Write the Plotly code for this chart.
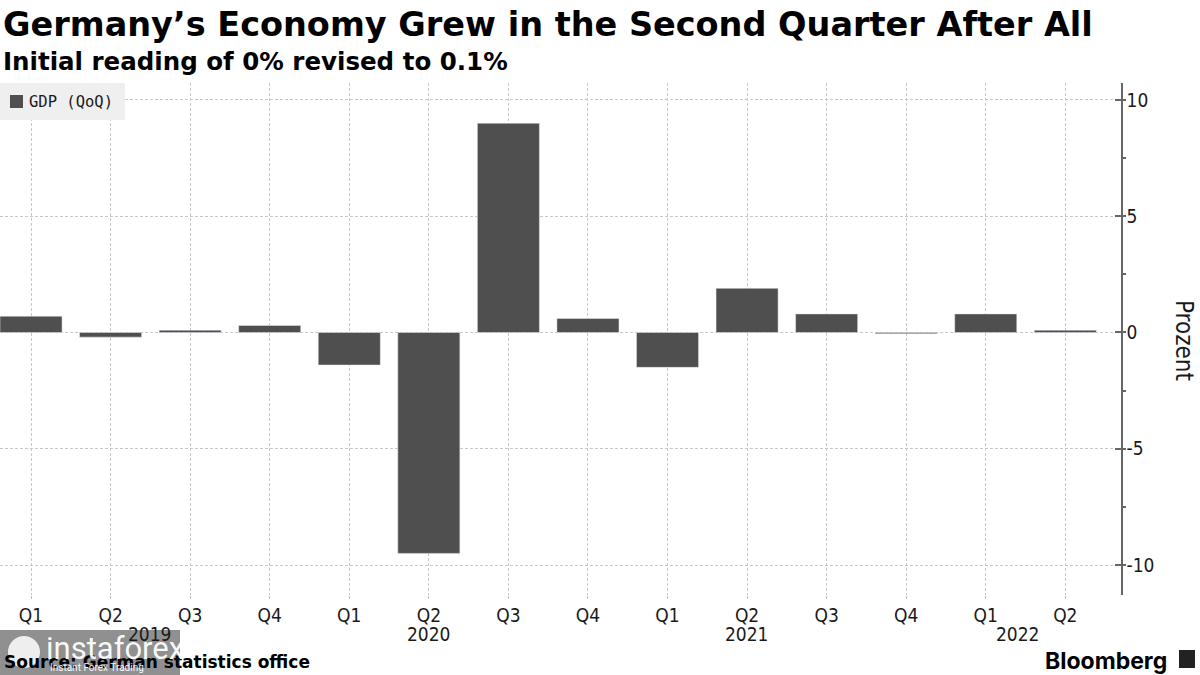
import plotly.graph_objects as go

quarters = ["Q1", "Q2", "Q3", "Q4", "Q1", "Q2", "Q3", "Q4",
            "Q1", "Q2", "Q3", "Q4", "Q1", "Q2"]
gdp_qoq = [0.7, -0.2, 0.1, 0.3, -1.4, -9.5, 9.0, 0.6,
           -1.5, 1.9, 0.8, -0.05, 0.8, 0.1]
years = ["2019", "2020", "2021", "2022"]
year_label_pos = [1.5, 5.0, 9.0, 12.4]
y_ticks = [-10, -5, 0, 5, 10]
series_name = "GDP (QoQ)"

title = "Germany’s Economy Grew in the Second Quarter After All"
subtitle = "Initial reading of 0% revised to 0.1%"
source = "Source: German statistics office"

BAR = "#4f4f4f"
GRID = "#c8c8c8"
TXT = "#1a1a1a"
TICKFONT = "DejaVu Sans Condensed, Liberation Sans Narrow, Roboto, sans-serif"
HEADFONT = "DejaVu Sans, Verdana, sans-serif"

W, H = 1200, 675
ML, MR, MT, MB = 0, 79, 83, 80
PW, PH = W - ML - MR, H - MT - MB


def px(xpix):
    return (xpix - ML) / PW


def py(ypix):
    return (H - MB - ypix) / PH


xs = list(range(len(quarters)))

fig = go.Figure()
fig.add_trace(go.Bar(
    x=xs, y=gdp_qoq, name=series_name, marker_color=BAR,
    width=0.78, showlegend=False,
))

fig.update_layout(
    width=W, height=H, autosize=False,
    margin=dict(l=ML, r=MR, t=MT, b=MB, autoexpand=False),
    paper_bgcolor="white", plot_bgcolor="white",
    showlegend=False,
)

fig.update_xaxes(
    range=[-0.39, 13.70],
    tickmode="array", tickvals=xs, ticktext=quarters,
    tickfont=dict(family=TICKFONT, size=19, color=TXT),
    showgrid=True, gridcolor=GRID, griddash="3px,2px", gridwidth=1,
    ticks="outside", ticklen=3, tickcolor="#bbbbbb",
    showline=False, zeroline=False, fixedrange=True,
)

fig.update_yaxes(
    side="right", range=[-11.29, 10.73],
    tickmode="array", tickvals=y_ticks, ticktext=[str(v) for v in y_ticks],
    tickfont=dict(family=TICKFONT, size=19, color=TXT),
    showgrid=True, gridcolor=GRID, griddash="3px,2px", gridwidth=1,
    zeroline=False,
    showline=True, linecolor="#666666", linewidth=1.5,
    ticks="inside", ticklen=6, tickwidth=2, tickcolor="#666666",
    minor=dict(dtick=2.5, tick0=0, ticks="outside", ticklen=3, tickcolor="#666666", showgrid=False),
    fixedrange=True,
)

shapes = [
    dict(type="line", xref="paper", yref="y", x0=0, x1=1, y0=0, y1=0,
         line=dict(color=GRID, width=1, dash="3px,2px"), layer="below"),
    dict(type="rect", xref="paper", yref="paper", x0=px(0), x1=px(125), y0=py(120), y1=py(83),
         fillcolor="#efefef", line=dict(width=0), layer="above"),
    dict(type="rect", xref="paper", yref="paper", x0=px(10), x1=px(23), y0=py(108), y1=py(95),
         fillcolor=BAR, line=dict(width=0), layer="above"),
    dict(type="rect", xref="paper", yref="paper", x0=px(0), x1=px(180), y0=py(675), y1=py(630),
         fillcolor="rgba(125,125,125,0.85)", line=dict(width=0), layer="above"),
    dict(type="circle", xref="paper", yref="paper", x0=px(8), x1=px(40), y0=py(668), y1=py(636),
         fillcolor="rgba(255,255,255,0.85)", line=dict(width=0), layer="above"),
    dict(type="rect", xref="paper", yref="paper", x0=px(1179), x1=px(1195), y0=py(668), y1=py(650),
         fillcolor="#222222", line=dict(width=0), layer="above"),
]

annotations = [
    dict(text=f"<b>{title}</b>", xref="paper", yref="paper", x=px(1), y=py(24),
         xanchor="left", yanchor="middle", showarrow=False,
         font=dict(family=HEADFONT, size=33.5, color="black")),
    dict(text=f"<b>{subtitle}</b>", xref="paper", yref="paper", x=px(1), y=py(61),
         xanchor="left", yanchor="middle", showarrow=False,
         font=dict(family=HEADFONT, size=24.5, color="black")),
    dict(text=f"<b>{source}</b>", xref="paper", yref="paper", x=px(2), y=py(662),
         xanchor="left", yanchor="middle", showarrow=False,
         font=dict(family=HEADFONT, size=17, color="black")),
    dict(text=series_name, xref="paper", yref="paper", x=px(27), y=py(102),
         xanchor="left", yanchor="middle", showarrow=False,
         font=dict(family="DejaVu Sans Mono, monospace", size=15.5, color=TXT)),
    dict(text="<b>Bloomberg</b>", xref="paper", yref="paper", x=px(1169), y=py(661),
         xanchor="right", yanchor="middle", showarrow=False,
         font=dict(family="Inter, Roboto, sans-serif", size=23, color="black")),
    dict(text="Prozent", xref="paper", yref="paper", x=px(1184), y=py(340),
         xanchor="center", yanchor="middle", textangle=90, showarrow=False,
         font=dict(family=TICKFONT, size=24, color=TXT)),
    dict(text="instaforex", xref="paper", yref="paper", x=px(44), y=py(648),
         xanchor="left", yanchor="middle", showarrow=False,
         font=dict(family="Roboto, sans-serif", size=31, color="rgba(255,255,255,0.95)")),
    dict(text="Instant Forex Trading", xref="paper", yref="paper", x=px(48), y=py(667),
         xanchor="left", yanchor="middle", showarrow=False,
         font=dict(family="Roboto, sans-serif", size=10, color="rgba(255,255,255,0.95)")),
]
for yr, pos in zip(years, year_label_pos):
    annotations.append(dict(
        text=yr, xref="x", yref="paper", x=pos, y=py(634), xanchor="center",
        yanchor="middle", showarrow=False,
        font=dict(family=TICKFONT, size=19, color=TXT)))

fig.update_layout(annotations=annotations, shapes=shapes)

fig.write_html("out.html", config={"displayModeBar": False},
               post_script="document.body.style.margin='0px';document.body.style.padding='0px';")
